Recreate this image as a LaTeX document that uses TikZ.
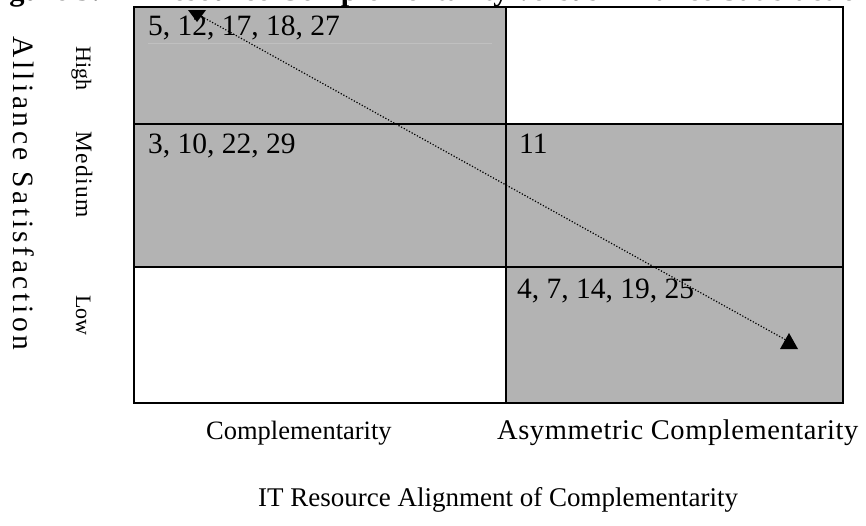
\documentclass[tikz,border=0pt]{standalone}
\usepackage{fontspec}
\setmainfont{Liberation Serif}
\newfontfamily\spacedfont[LetterSpace=12]{Liberation Serif}
\newfontfamily\medfont[LetterSpace=6]{Liberation Serif}
\newfontfamily\slightfont[LetterSpace=2]{Liberation Serif}
\definecolor{cellgray}{RGB}{179,179,179}
\definecolor{faintline}{RGB}{192,192,192}
\tikzset{
  gridline/.style={line width=2pt, line cap=rect},
  numtext/.style={anchor=base west, inner sep=0pt, font=\fontsize{29.5}{34}\selectfont},
  axistext/.style={anchor=base west, inner sep=0pt, font=\fontsize{27}{31}\selectfont},
  titletext/.style={anchor=base west, inner sep=0pt, font=\fontsize{30.5}{34}\selectfont\bfseries},
  levtext/.style={anchor=base west, inner sep=0pt, rotate=-90, font=\fontsize{22}{26}\selectfont},
  trendline/.style={line width=1.2pt, dash pattern=on 1.2pt off 1.8pt},
  tiphead/.style={fill=black}
}
\begin{document}
\begin{tikzpicture}[x=1pt,y=-1pt]
\useasboundingbox (0,0) rectangle (866,525);
% title (cut off at the top)
\node[titletext] (t1) at (-18,0.5) {Figure 3:};
\node[titletext, anchor=base east] (t2) at (270,0.5) {Resource};
\node[titletext] (t3) at (278,0.5) {Complementarity versus Alliance Satisfaction};
% cells
\fill[cellgray] (134,7) rectangle (506,267);
\fill[cellgray] (506,124) rectangle (843,403);
\draw[faintline, line width=1pt] (148,43) -- (492,43);
% grid
\draw[gridline] (134,7) rectangle (843,403);
\draw[gridline] (134,124) -- (843,124);
\draw[gridline] (134,267) -- (843,267);
\draw[gridline] (506,7) -- (506,403);
% cell contents
\node[numtext] (c11) at (148,35) {5, 12, 17, 18, 27};
\node[numtext] (c21) at (148,153) {3, 10, 22, 29};
\node[numtext] (c22) at (519,153) {11};
\node[numtext] (c32) at (517,298) {4, 7, 14, 19, 25};
% trend arrow
\coordinate (a1) at (199,15);
\coordinate (a2) at (786,340);
\draw[trendline] (a1) -- (a2);
\fill[tiphead] (188,10) -- (206,10) -- (197,22) -- cycle;
\fill[tiphead] (780,349) -- (798,349) -- (789,333) -- cycle;
% vertical labels
\node[anchor=base west, inner sep=0pt, rotate=-90, font=\fontsize{29.5}{33}\selectfont\spacedfont] (ylab) at (13,36) {Alliance Satisfaction};
\node[levtext] (lh) at (76,46) {High};
\node[levtext, font=\fontsize{23.5}{27}\selectfont\medfont] (lm) at (76,131) {Medium};
\node[levtext] (ll) at (76,295) {Low};
% horizontal labels
\node[axistext, font=\fontsize{26.5}{30}\selectfont] (x1) at (206,439) {Complementarity};
\node[axistext, font=\fontsize{28.5}{32}\selectfont\slightfont] (x2) at (497,439) {Asymmetric Complementarity};
\node[axistext] (xlab) at (258,506) {IT Resource Alignment of Complementarity};
\end{tikzpicture}
\end{document}
